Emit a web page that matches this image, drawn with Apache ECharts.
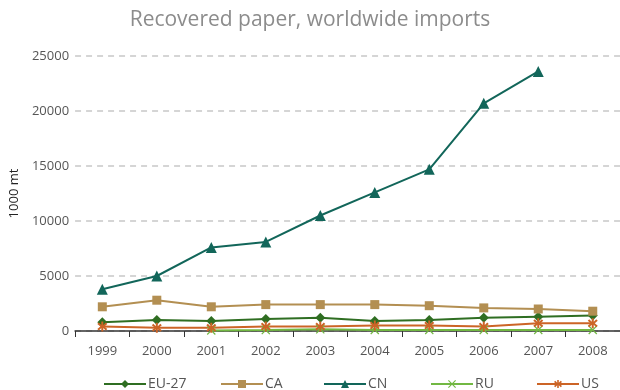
<!DOCTYPE html>
<html>
<head>
<meta charset="utf-8">
<script src="https://cdn.jsdelivr.net/npm/echarts@6/dist/echarts.min.js"></script>
<style>
  html, body { margin: 0; padding: 0; background: #fff; }
  #chart { width: 620px; height: 390px; }
</style>
</head>
<body>
<div id="chart"></div>
<script>
// 数据
var years = ['1999', '2000', '2001', '2002', '2003', '2004', '2005', '2006', '2007', '2008']
var eu27 = [800, 1000, 900, 1100, 1200, 900, 1000, 1200, 1300, 1400]
var ca = [2200, 2800, 2200, 2400, 2400, 2400, 2300, 2100, 2000, 1800]
var cn = [3800, 5000, 7600, 8100, 10500, 12600, 14700, 20700, 23600, null]
var ru = [null, null, 50, 80, 150, 100, 100, 100, 100, 100]
var us = [400, 300, 300, 400, 400, 500, 500, 400, 700, 700]
var yTicks = [0, 5000, 10000, 15000, 20000, 25000]
var names = ['EU-27', 'CA', 'CN', 'RU', 'US']
var legendLeft = [103, 220, 323, 430, 536]

var xMark = 'path://M1,0L5,4L9,0L10,1L6,5L10,9L9,10L5,6L1,10L0,9L4,5L0,1Z'
var starMark = 'path://M4,0L6,0L6,3.5L8.5,1L10,2.5L7,5L10,7.5L8.5,9L6,6.5L6,10L4,10L4,6.5L1.5,9L0,7.5L3,5L0,2.5L1.5,1L4,3.5Z'

//生成折线系列
function mkLine(name, data, color, symbol, size) {
  return {
    name: name,
    type: 'line',
    data: data,
    symbol: symbol,
    symbolSize: size,
    showSymbol: true,
    connectNulls: false,
    itemStyle: { color: color },
    lineStyle: { color: color, width: 2 },
    z: 3
  }
}

//每个图例单独定位
var legends = names.map(function (n, i) {
  return {
    data: [n],
    left: legendLeft[i],
    bottom: -6,
    padding: [5, 0],
    itemWidth: 42,
    itemHeight: 10,
    textStyle: { fontFamily: 'Open Sans', fontSize: 14, color: '#555', padding: [0, 0, 0, -3] }
  }
})

var chart = echarts.init(document.getElementById('chart'))
chart.setOption({
  animation: false,
  title: {
    text: 'Recovered paper, worldwide imports',
    left: 'center',
    top: 5,
    textStyle: { fontFamily: 'Open Sans', fontSize: 21, fontWeight: 'normal', color: '#8c8c8c' }
  },
  legend: legends,
  grid: { left: 74, top: 56, width: 550, height: 275 },
  xAxis: {
    type: 'category',
    data: years,
    boundaryGap: true,
    axisLine: { lineStyle: { color: '#333', width: 1.5 } },
    axisTick: { show: true, length: 6, inside: false, lineStyle: { color: '#333' } },
    axisLabel: { fontFamily: 'Open Sans', fontSize: 13, color: '#555', margin: 14 }
  },
  yAxis: {
    type: 'value',
    name: '1000 mt',
    nameLocation: 'middle',
    nameRotate: 90,
    nameGap: 47,
    nameTextStyle: { fontFamily: 'Open Sans', fontSize: 13, color: '#222' },
    min: yTicks[0],
    max: yTicks[yTicks.length - 1],
    interval: 5000,
    axisLine: { show: false },
    axisTick: { show: false },
    axisLabel: {
      fontFamily: 'Open Sans', fontSize: 13, color: '#555', margin: 6,
      formatter: function (v) { return String(v) }
    },
    splitLine: { lineStyle: { color: '#c8c8c8', type: [6, 5], width: 1.5 } }
  },
  series: [
    mkLine('EU-27', eu27, '#2f6e22', 'diamond', 10),
    mkLine('CA', ca, '#b38f52', 'rect', 9),
    mkLine('CN', cn, '#12665a', 'triangle', 11),
    mkLine('RU', ru, '#72b843', xMark, 9),
    mkLine('US', us, '#cc6426', starMark, 10)
  ]
})
</script>
</body>
</html>
